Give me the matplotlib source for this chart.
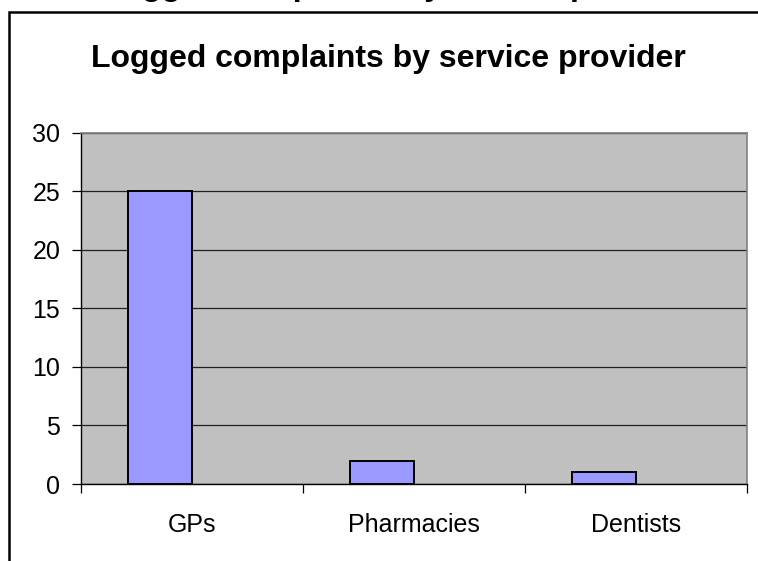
import matplotlib
matplotlib.use("Agg")
import matplotlib.pyplot as plt
from matplotlib.patches import Rectangle

categories = ["GPs", "Pharmacies", "Dentists"]
values = [25, 2, 1]
yticks = [0, 5, 10, 15, 20, 25, 30]
title = "Logged complaints by service provider"

plt.rcParams['font.family'] = ['Liberation Sans', 'DejaVu Sans']

W, H = 758, 561
fig = plt.figure(figsize=(W/100, H/100), dpi=100)
fig.patch.set_facecolor('white')

# frame around chart (cropped on right/bottom)
fig.patches.append(Rectangle((9/W, -0.1), 1.2, 1 - 11.5/H + 0.1, transform=fig.transFigure,
                             fill=False, edgecolor='black', linewidth=1.8, zorder=0))

ax = fig.add_axes([81/W, 1 - 484/H, (747-81)/W, (484-132.7)/H])
ax.set_facecolor('#C0C0C0')

x = list(range(len(categories)))
bw = 0.288
ax.bar([i - bw/2 for i in x], values, width=bw, color='#9999FF', edgecolor='black',
       linewidth=1.4, zorder=3)

ax.set_xlim(-0.5, len(categories) - 0.5)
ax.set_ylim(0, 30)
ax.set_yticks(yticks)
ax.set_yticklabels([str(v) for v in yticks])
ax.yaxis.grid(True, color='#202020', linewidth=0.9, zorder=1)
ax.set_axisbelow(True)

ax.set_xticks([i - 0.5 for i in range(len(categories) + 1)])
ax.set_xticklabels([])
ax.set_xticks(x, minor=True)
ax.set_xticklabels(categories, minor=True)
ax.tick_params(axis='x', which='major', length=6.5, width=0.9, direction='out', color='black')
ax.tick_params(axis='x', which='minor', length=0, pad=21, labelsize=18)
ax.tick_params(axis='y', length=6.5, width=0.9, direction='out', pad=8.5, labelsize=18)

for s in ['top', 'right']:
    ax.spines[s].set_color('#808080')
    ax.spines[s].set_linewidth(1.2)
for s in ['left', 'bottom']:
    ax.spines[s].set_color('black')
    ax.spines[s].set_linewidth(1.0)

fig.text(388/W, 1 - 67/H, title, ha='center', va='baseline', fontsize=23, fontweight='bold')
# partially visible duplicated title at the very top (only its descenders show)
fig.text(400/W, 1 + 5/H, title, ha='center', va='baseline', fontsize=23, fontweight='bold')

fig.savefig("out.png", dpi=100)
